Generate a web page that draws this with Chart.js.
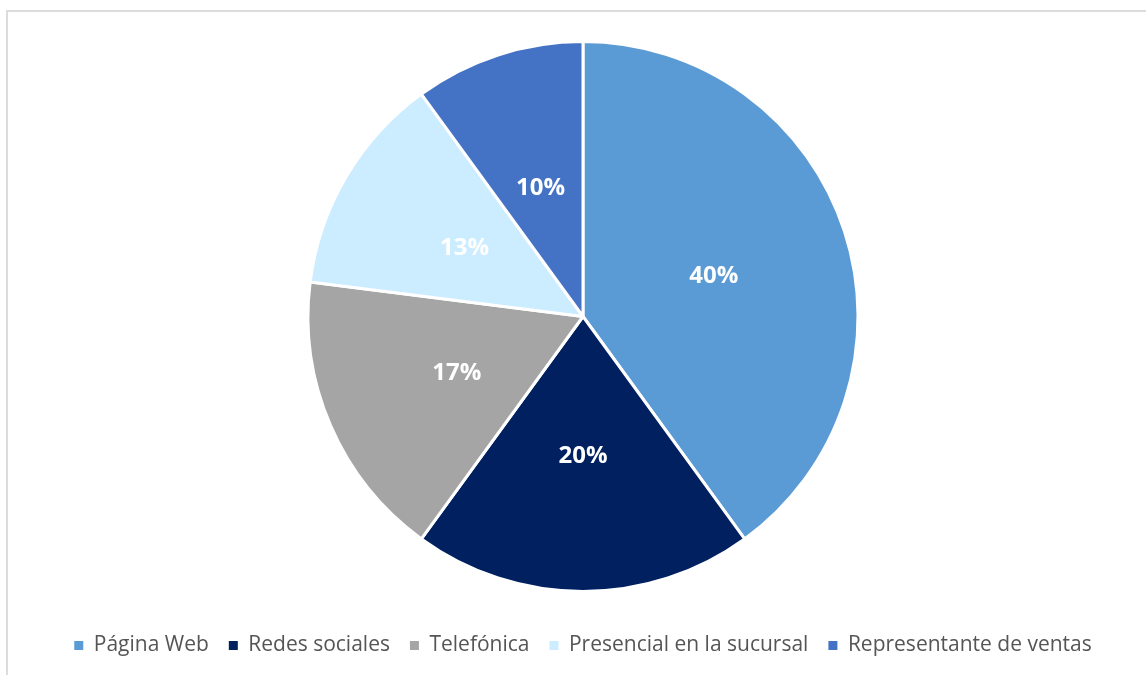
<!DOCTYPE html>
<html>
<head>
<meta charset="utf-8">
<script src="https://cdn.jsdelivr.net/npm/chart.js@4.4.1/dist/chart.umd.min.js"></script>
<style>
  html, body { margin: 0; padding: 0; background: #fff; }
  #wrap { position: relative; width: 1146px; height: 675px; overflow: hidden; }
  #frame { position: absolute; left: 6px; top: 10px; width: 1200px; height: 700px;
           border-left: 2px solid #dcdcdc; border-top: 2px solid #dcdcdc; }
  #pieChart { position: absolute; left: 0; top: 0; }
</style>
</head>
<body>
<div id="wrap">
  <div id="frame"></div>
  <canvas id="pieChart" width="1146" height="675"></canvas>
</div>
<script>
// Canales de contacto
const labels = ['Página Web', 'Redes sociales', 'Telefónica', 'Presencial en la sucursal', 'Representante de ventas'];
const values = [40, 20, 17, 13, 10];
const colors = ['#5B9BD5', '#002060', '#A5A5A5', '#CCECFF', '#4472C4'];

// Percentage labels drawn at the middle of each slice
const sliceLabels = {
    id: 'sliceLabels',
    afterDatasetsDraw(chart) {
        const ctx = chart.ctx;
        const meta = chart.getDatasetMeta(0);
        const data = chart.data.datasets[0].data;
        const total = data.reduce((a, b) => a + b, 0);
        ctx.save();
        ctx.font = 'bold 24px "Open Sans"';
        ctx.fillStyle = '#ffffff';
        ctx.textAlign = 'center';
        ctx.textBaseline = 'middle';
        meta.data.forEach((arc, i) => {
            const pos = arc.tooltipPosition();
            ctx.fillText(Math.round(data[i] / total * 100) + '%', pos.x, pos.y + 2);
        });
        ctx.restore();
    }
};

const ctx = document.getElementById('pieChart').getContext('2d');
const pieChart = new Chart(ctx, {
    type: 'pie',
    data: {
        labels: labels,
        datasets: [{
            data: values,
            backgroundColor: colors,
            borderColor: '#fff',
            borderWidth: 3,
            radius: 275
        }]
    },
    options: {
        responsive: false,
        animation: false,
        layout: { padding: { top: 18, bottom: 9, left: 20, right: 0 } },
        plugins: {
            legend: {
                position: 'bottom',
                labels: {
                    boxWidth: 9,
                    boxHeight: 9,
                    padding: 20,
                    color: '#555555',
                    font: { family: '"Open Sans"', size: 21 },
                    // plain squares, without the white slice border
                    generateLabels(chart) {
                        return Chart.overrides.pie.plugins.legend.labels.generateLabels(chart)
                            .map(item => ({ ...item, lineWidth: 0 }));
                    }
                }
            },
            tooltip: { enabled: false }
        }
    },
    plugins: [sliceLabels]
});
</script>
</body>
</html>
